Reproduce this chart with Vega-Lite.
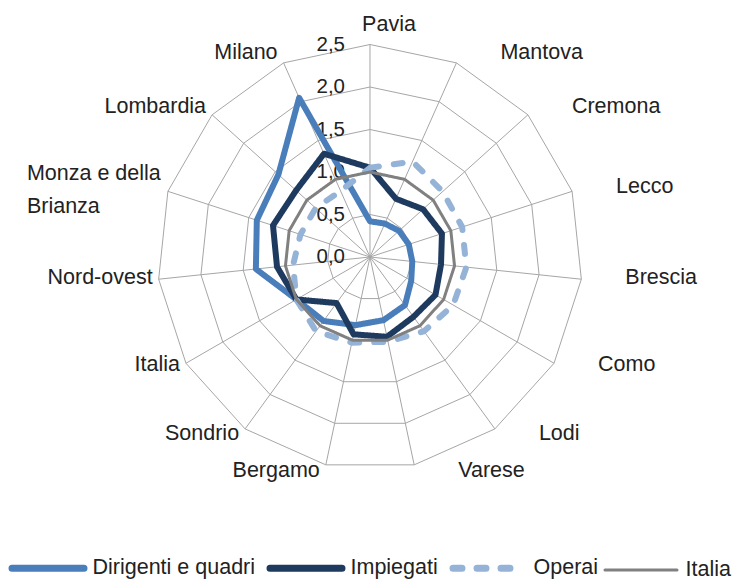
{
  "$schema": "https://vega.github.io/schema/vega-lite/v6.json",
  "width": 744,
  "height": 584,
  "autosize": "none",
  "padding": 0,
  "background": "white",
  "config": {
    "view": {"stroke": null},
    "font": "Liberation Sans, Arial, sans-serif",
    "text": {"font": "Liberation Sans, Arial, sans-serif", "fontSize": 21.5, "color": "#222222"},
    "legend": {
      "orient": "none",
      "legendX": 8.5,
      "legendY": 528.5,
      "direction": "horizontal",
      "symbolType": "stroke",
      "symbolSize": 5184,
      "symbolStrokeWidth": 7,
      "labelFont": "Liberation Sans, Arial, sans-serif",
      "labelFontSize": 21.5,
      "labelColor": "#222222",
      "labelOffset": 5,
      "columnPadding": 0,
      "labelLimit": 400
    }
  },
  "datasets": {
    "d": [
      {"regione": "Pavia", "k": 0, "Dirigenti e quadri": 0.42, "Impiegati": 1.05, "Operai": 1.05, "Italia": 1},
      {"regione": "Mantova", "k": 1, "Dirigenti e quadri": 0.43, "Impiegati": 0.75, "Operai": 1.23, "Italia": 1},
      {"regione": "Cremona", "k": 2, "Dirigenti e quadri": 0.46, "Impiegati": 0.84, "Operai": 1.15, "Italia": 1},
      {"regione": "Lecco", "k": 3, "Dirigenti e quadri": 0.48, "Impiegati": 0.89, "Operai": 1.14, "Italia": 1},
      {"regione": "Brescia", "k": 4, "Dirigenti e quadri": 0.5, "Impiegati": 0.84, "Operai": 1.14, "Italia": 1},
      {"regione": "Como", "k": 5, "Dirigenti e quadri": 0.56, "Impiegati": 0.89, "Operai": 1.13, "Italia": 1},
      {"regione": "Lodi", "k": 6, "Dirigenti e quadri": 0.7, "Impiegati": 0.87, "Operai": 1.08, "Italia": 1},
      {"regione": "Varese", "k": 7, "Dirigenti e quadri": 0.76, "Impiegati": 0.96, "Operai": 1.02, "Italia": 1},
      {"regione": "Bergamo", "k": 8, "Dirigenti e quadri": 0.82, "Impiegati": 0.93, "Operai": 1.03, "Italia": 1},
      {"regione": "Sondrio", "k": 9, "Dirigenti e quadri": 0.93, "Impiegati": 0.67, "Operai": 1.08, "Italia": 1},
      {"regione": "Italia", "k": 10, "Dirigenti e quadri": 1.0, "Impiegati": 1.0, "Operai": 1.0, "Italia": 1},
      {"regione": "Nord-ovest", "k": 11, "Dirigenti e quadri": 1.35, "Impiegati": 1.1, "Operai": 0.91, "Italia": 1},
      {"regione": "Monza e della Brianza", "k": 12, "Dirigenti e quadri": 1.4, "Impiegati": 1.2, "Operai": 0.86, "Italia": 1},
      {"regione": "Lombardia", "k": 13, "Dirigenti e quadri": 1.45, "Impiegati": 1.17, "Operai": 0.86, "Italia": 1},
      {"regione": "Milano", "k": 14, "Dirigenti e quadri": 2.05, "Impiegati": 1.33, "Operai": 0.85, "Italia": 1}
    ],
    "lv": [{"lv": 0}, {"lv": 0.5}, {"lv": 1}, {"lv": 1.5}, {"lv": 2}, {"lv": 2.5}]
  },
  "layer": [
    {
      "data": {"name": "d"},
      "transform": [
        {"calculate": "[0.5, 1, 1.5, 2, 2.5]", "as": "ring"},
        {"flatten": ["ring"]},
        {"calculate": "datum.k * 2 * PI / 15", "as": "a"},
        {"calculate": "datum.ring * sin(datum.a)", "as": "gx"},
        {"calculate": "datum.ring * cos(datum.a)", "as": "gy"}
      ],
      "mark": {"type": "line", "interpolate": "linear-closed", "color": "#A6A6A6", "strokeWidth": 1},
      "encoding": {
        "x": {"field": "gx", "type": "quantitative", "scale": {"domain": [-4.35294, 4.4], "nice": false, "zero": false}, "axis": null},
        "y": {"field": "gy", "type": "quantitative", "scale": {"domain": [-3.84706, 3.02353], "nice": false, "zero": false}, "axis": null},
        "detail": {"field": "ring", "type": "nominal"},
        "order": {"field": "k", "type": "quantitative"}
      }
    },
    {
      "data": {"name": "d"},
      "transform": [
        {"calculate": "datum.k * 2 * PI / 15", "as": "a"},
        {"calculate": "2.5 * sin(datum.a)", "as": "ox"},
        {"calculate": "2.5 * cos(datum.a)", "as": "oy"},
        {"calculate": "0", "as": "zx"}
      ],
      "mark": {"type": "rule", "color": "#A6A6A6", "strokeWidth": 1},
      "encoding": {
        "x": {"field": "zx", "type": "quantitative", "axis": null},
        "y": {"field": "zx", "type": "quantitative", "axis": null},
        "x2": {"field": "ox"},
        "y2": {"field": "oy"}
      }
    },
    {
      "data": {"name": "lv"},
      "transform": [
        {"calculate": "replace(format(datum.lv, '.1f'), '.', ',')", "as": "t"},
        {"calculate": "0", "as": "zx"}
      ],
      "mark": {"type": "text", "align": "right", "baseline": "middle", "dx": -25, "fontSize": 20.5},
      "encoding": {
        "x": {"field": "zx", "type": "quantitative", "axis": null},
        "y": {"field": "lv", "type": "quantitative", "axis": null},
        "text": {"field": "t"}
      }
    },
    {
      "data": {"name": "d"},
      "transform": [
        {"fold": ["Dirigenti e quadri", "Impiegati", "Operai", "Italia"], "as": ["serie", "v"]},
        {"calculate": "datum.k * 2 * PI / 15", "as": "a"},
        {"calculate": "datum.v * sin(datum.a)", "as": "px"},
        {"calculate": "datum.v * cos(datum.a)", "as": "py"}
      ],
      "mark": {"type": "line", "interpolate": "linear-closed", "strokeJoin": "round", "strokeCap": "round"},
      "encoding": {
        "x": {"field": "px", "type": "quantitative", "axis": null},
        "y": {"field": "py", "type": "quantitative", "axis": null},
        "order": {"field": "k", "type": "quantitative"},
        "color": {
          "field": "serie", "type": "nominal",
          "scale": {"domain": ["Dirigenti e quadri", "Impiegati", "Operai", "Italia"], "range": ["#4A7EBB", "#1F3A5F", "#95B3D7", "#808080"]},
          "legend": {
            "title": null,
            "encode": {"symbols": {"update": {
              "strokeWidth": {"signal": "(datum.value === 'Italia' ? 3 : 7)"},
              "strokeDash": {"signal": "(datum.value === 'Operai' ? [22, 19] : [1, 0])"},
              "strokeCap": {"value": "round"}
            }}}
          }
        },
        "strokeDash": {
          "field": "serie", "type": "nominal",
          "scale": {"domain": ["Dirigenti e quadri", "Impiegati", "Operai", "Italia"], "range": [[1, 0], [1, 0], [9, 15], [1, 0]]},
          "legend": {"title": null}
        },
        "strokeWidth": {"condition": {"test": "datum.serie === 'Italia'", "value": 3}, "value": 6}
      }
    },
    {
      "data": {"name": "d"},
      "transform": [
        {"filter": "datum.k >= 1 && datum.k <= 7"},
        {"calculate": "datum.k * 2 * PI / 15", "as": "a"},
        {"calculate": "2.5 * sin(datum.a)", "as": "lx"},
        {"calculate": "2.6 * cos(datum.a)", "as": "ly"}
      ],
      "mark": {"type": "text", "align": "left", "baseline": "middle", "dx": 44, "dy": -2},
      "encoding": {
        "x": {"field": "lx", "type": "quantitative", "axis": null},
        "y": {"field": "ly", "type": "quantitative", "axis": null},
        "text": {"field": "regione"}
      }
    },
    {
      "data": {"name": "d"},
      "transform": [
        {"filter": "datum.k >= 8 && datum.k != 12"},
        {"calculate": "datum.k * 2 * PI / 15", "as": "a"},
        {"calculate": "2.5 * sin(datum.a)", "as": "lx"},
        {"calculate": "2.6 * cos(datum.a)", "as": "ly"}
      ],
      "mark": {"type": "text", "align": "right", "baseline": "middle", "dx": -6, "dy": -2},
      "encoding": {
        "x": {"field": "lx", "type": "quantitative", "axis": null},
        "y": {"field": "ly", "type": "quantitative", "axis": null},
        "text": {"field": "regione"}
      }
    },
    {
      "data": {"name": "d"},
      "transform": [
        {"filter": "datum.k == 0"},
        {"calculate": "0", "as": "lx"},
        {"calculate": "2.5", "as": "ly"}
      ],
      "mark": {"type": "text", "align": "center", "baseline": "alphabetic", "dx": 19, "dy": -14},
      "encoding": {
        "x": {"field": "lx", "type": "quantitative", "axis": null},
        "y": {"field": "ly", "type": "quantitative", "axis": null},
        "text": {"field": "regione"}
      }
    },
    {
      "data": {"name": "d"},
      "transform": [
        {"filter": "datum.k == 12"},
        {"calculate": "datum.k * 2 * PI / 15", "as": "a"},
        {"calculate": "2.5 * sin(datum.a)", "as": "lx"},
        {"calculate": "2.5 * cos(datum.a)", "as": "ly"},
        {"calculate": "replace(datum.regione, 'della ', 'della\\n')", "as": "t"}
      ],
      "mark": {"type": "text", "align": "left", "baseline": "alphabetic", "dx": -141, "dy": -11, "lineBreak": "\n", "lineHeight": 33},
      "encoding": {
        "x": {"field": "lx", "type": "quantitative", "axis": null},
        "y": {"field": "ly", "type": "quantitative", "axis": null},
        "text": {"field": "t"}
      }
    }
  ]
}
